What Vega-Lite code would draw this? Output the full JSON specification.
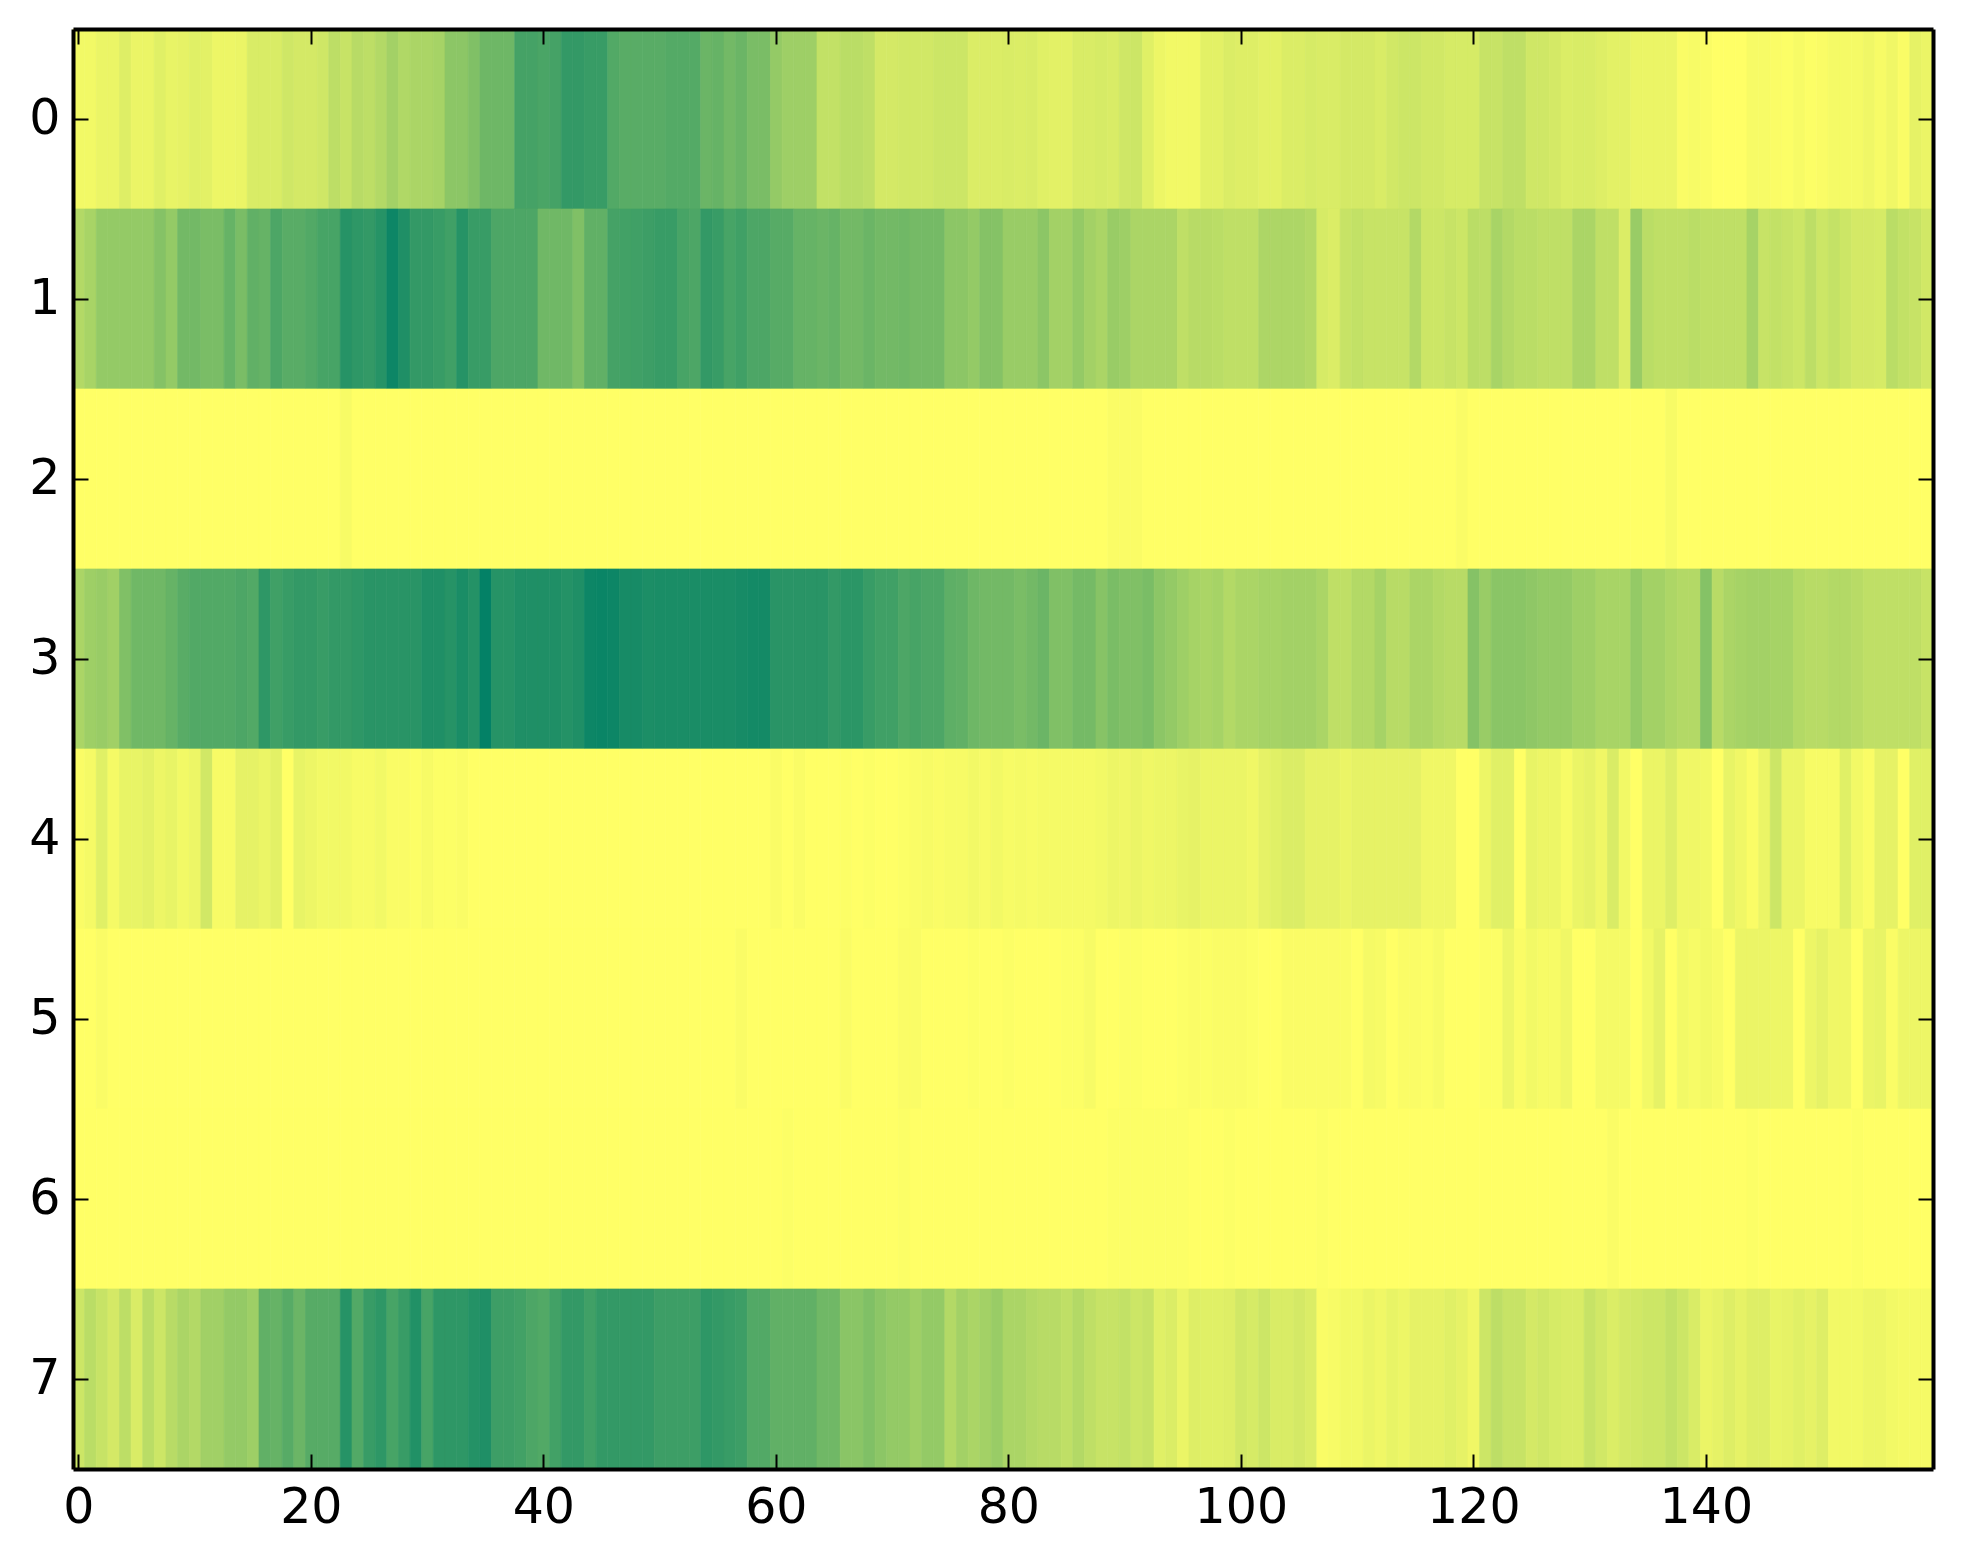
{
"$schema":"https://vega.github.io/schema/vega-lite/v6.json",
"description":"Heatmap of 8 rows by 160 columns in a yellow to green colormap.",
"autosize":{"type":"none"},
"padding":{"left":73,"top":29,"right":30,"bottom":95},
"width":1860,
"height":1440,
"background":"white",
"config":{"view":{"stroke":null},"axis":{"grid":false,"title":null,"labelFont":"DejaVu Sans","labelFontSize":49,"labelColor":"black","tickColor":"black","tickWidth":2,"domainColor":"black","domainWidth":4,"labelAngle":0}},
"data":{"values":[
{"r":0,"c":0,"v":0.05},{"r":0,"c":1,"v":0.05},{"r":0,"c":2,"v":0.08},{"r":0,"c":3,"v":0.08},{"r":0,"c":4,"v":0.13},{"r":0,"c":5,"v":0.08},{"r":0,"c":6,"v":0.08},{"r":0,"c":7,"v":0.12},{"r":0,"c":8,"v":0.09},{"r":0,"c":9,"v":0.1},
{"r":0,"c":10,"v":0.12},{"r":0,"c":11,"v":0.11},{"r":0,"c":12,"v":0.07},{"r":0,"c":13,"v":0.07},{"r":0,"c":14,"v":0.08},{"r":0,"c":15,"v":0.15},{"r":0,"c":16,"v":0.15},{"r":0,"c":17,"v":0.15},{"r":0,"c":18,"v":0.19},{"r":0,"c":19,"v":0.17},
{"r":0,"c":20,"v":0.17},{"r":0,"c":21,"v":0.19},{"r":0,"c":22,"v":0.26},{"r":0,"c":23,"v":0.22},{"r":0,"c":24,"v":0.28},{"r":0,"c":25,"v":0.26},{"r":0,"c":26,"v":0.3},{"r":0,"c":27,"v":0.36},{"r":0,"c":28,"v":0.31},{"r":0,"c":29,"v":0.33},
{"r":0,"c":30,"v":0.33},{"r":0,"c":31,"v":0.35},{"r":0,"c":32,"v":0.45},{"r":0,"c":33,"v":0.45},{"r":0,"c":34,"v":0.5},{"r":0,"c":35,"v":0.57},{"r":0,"c":36,"v":0.57},{"r":0,"c":37,"v":0.57},{"r":0,"c":38,"v":0.73},{"r":0,"c":39,"v":0.73},
{"r":0,"c":40,"v":0.71},{"r":0,"c":41,"v":0.73},{"r":0,"c":42,"v":0.8},{"r":0,"c":43,"v":0.8},{"r":0,"c":44,"v":0.78},{"r":0,"c":45,"v":0.78},{"r":0,"c":46,"v":0.68},{"r":0,"c":47,"v":0.65},{"r":0,"c":48,"v":0.65},{"r":0,"c":49,"v":0.65},
{"r":0,"c":50,"v":0.65},{"r":0,"c":51,"v":0.67},{"r":0,"c":52,"v":0.67},{"r":0,"c":53,"v":0.67},{"r":0,"c":54,"v":0.58},{"r":0,"c":55,"v":0.6},{"r":0,"c":56,"v":0.55},{"r":0,"c":57,"v":0.58},{"r":0,"c":58,"v":0.52},{"r":0,"c":59,"v":0.52},
{"r":0,"c":60,"v":0.42},{"r":0,"c":61,"v":0.38},{"r":0,"c":62,"v":0.38},{"r":0,"c":63,"v":0.38},{"r":0,"c":64,"v":0.24},{"r":0,"c":65,"v":0.24},{"r":0,"c":66,"v":0.27},{"r":0,"c":67,"v":0.27},{"r":0,"c":68,"v":0.25},{"r":0,"c":69,"v":0.17},
{"r":0,"c":70,"v":0.17},{"r":0,"c":71,"v":0.18},{"r":0,"c":72,"v":0.18},{"r":0,"c":73,"v":0.18},{"r":0,"c":74,"v":0.2},{"r":0,"c":75,"v":0.2},{"r":0,"c":76,"v":0.2},{"r":0,"c":77,"v":0.14},{"r":0,"c":78,"v":0.14},{"r":0,"c":79,"v":0.14},
{"r":0,"c":80,"v":0.15},{"r":0,"c":81,"v":0.14},{"r":0,"c":82,"v":0.15},{"r":0,"c":83,"v":0.12},{"r":0,"c":84,"v":0.11},{"r":0,"c":85,"v":0.11},{"r":0,"c":86,"v":0.15},{"r":0,"c":87,"v":0.15},{"r":0,"c":88,"v":0.16},{"r":0,"c":89,"v":0.15},
{"r":0,"c":90,"v":0.19},{"r":0,"c":91,"v":0.2},{"r":0,"c":92,"v":0.12},{"r":0,"c":93,"v":0.07},{"r":0,"c":94,"v":0.05},{"r":0,"c":95,"v":0.05},{"r":0,"c":96,"v":0.05},{"r":0,"c":97,"v":0.11},{"r":0,"c":98,"v":0.11},{"r":0,"c":99,"v":0.14},
{"r":0,"c":100,"v":0.13},{"r":0,"c":101,"v":0.13},{"r":0,"c":102,"v":0.11},{"r":0,"c":103,"v":0.11},{"r":0,"c":104,"v":0.14},{"r":0,"c":105,"v":0.14},{"r":0,"c":106,"v":0.16},{"r":0,"c":107,"v":0.15},{"r":0,"c":108,"v":0.15},{"r":0,"c":109,"v":0.17},
{"r":0,"c":110,"v":0.17},{"r":0,"c":111,"v":0.17},{"r":0,"c":112,"v":0.15},{"r":0,"c":113,"v":0.18},{"r":0,"c":114,"v":0.2},{"r":0,"c":115,"v":0.2},{"r":0,"c":116,"v":0.18},{"r":0,"c":117,"v":0.18},{"r":0,"c":118,"v":0.16},{"r":0,"c":119,"v":0.16},
{"r":0,"c":120,"v":0.16},{"r":0,"c":121,"v":0.22},{"r":0,"c":122,"v":0.22},{"r":0,"c":123,"v":0.25},{"r":0,"c":124,"v":0.25},{"r":0,"c":125,"v":0.19},{"r":0,"c":126,"v":0.19},{"r":0,"c":127,"v":0.17},{"r":0,"c":128,"v":0.14},{"r":0,"c":129,"v":0.15},
{"r":0,"c":130,"v":0.15},{"r":0,"c":131,"v":0.13},{"r":0,"c":132,"v":0.11},{"r":0,"c":133,"v":0.11},{"r":0,"c":134,"v":0.08},{"r":0,"c":135,"v":0.08},{"r":0,"c":136,"v":0.08},{"r":0,"c":137,"v":0.08},{"r":0,"c":138,"v":0.02},{"r":0,"c":139,"v":0.03},
{"r":0,"c":140,"v":0.02},{"r":0,"c":141,"v":0},{"r":0,"c":142,"v":0},{"r":0,"c":143,"v":0},{"r":0,"c":144,"v":0.03},{"r":0,"c":145,"v":0.03},{"r":0,"c":146,"v":0.02},{"r":0,"c":147,"v":0.01},{"r":0,"c":148,"v":0.03},{"r":0,"c":149,"v":0.01},
{"r":0,"c":150,"v":0.02},{"r":0,"c":151,"v":0.04},{"r":0,"c":152,"v":0.04},{"r":0,"c":153,"v":0.04},{"r":0,"c":154,"v":0.06},{"r":0,"c":155,"v":0.03},{"r":0,"c":156,"v":0.06},{"r":0,"c":157,"v":0.02},{"r":0,"c":158,"v":0.1},{"r":0,"c":159,"v":0.08},
{"r":1,"c":0,"v":0.3},{"r":1,"c":1,"v":0.34},{"r":1,"c":2,"v":0.42},{"r":1,"c":3,"v":0.42},{"r":1,"c":4,"v":0.42},{"r":1,"c":5,"v":0.42},{"r":1,"c":6,"v":0.42},{"r":1,"c":7,"v":0.48},{"r":1,"c":8,"v":0.42},{"r":1,"c":9,"v":0.55},
{"r":1,"c":10,"v":0.55},{"r":1,"c":11,"v":0.52},{"r":1,"c":12,"v":0.52},{"r":1,"c":13,"v":0.6},{"r":1,"c":14,"v":0.52},{"r":1,"c":15,"v":0.62},{"r":1,"c":16,"v":0.6},{"r":1,"c":17,"v":0.7},{"r":1,"c":18,"v":0.65},{"r":1,"c":19,"v":0.65},
{"r":1,"c":20,"v":0.68},{"r":1,"c":21,"v":0.72},{"r":1,"c":22,"v":0.72},{"r":1,"c":23,"v":0.85},{"r":1,"c":24,"v":0.82},{"r":1,"c":25,"v":0.8},{"r":1,"c":26,"v":0.85},{"r":1,"c":27,"v":0.95},{"r":1,"c":28,"v":0.88},{"r":1,"c":29,"v":0.8},
{"r":1,"c":30,"v":0.8},{"r":1,"c":31,"v":0.78},{"r":1,"c":32,"v":0.75},{"r":1,"c":33,"v":0.85},{"r":1,"c":34,"v":0.78},{"r":1,"c":35,"v":0.78},{"r":1,"c":36,"v":0.7},{"r":1,"c":37,"v":0.7},{"r":1,"c":38,"v":0.7},{"r":1,"c":39,"v":0.7},
{"r":1,"c":40,"v":0.56},{"r":1,"c":41,"v":0.56},{"r":1,"c":42,"v":0.56},{"r":1,"c":43,"v":0.5},{"r":1,"c":44,"v":0.62},{"r":1,"c":45,"v":0.62},{"r":1,"c":46,"v":0.73},{"r":1,"c":47,"v":0.74},{"r":1,"c":48,"v":0.75},{"r":1,"c":49,"v":0.76},
{"r":1,"c":50,"v":0.78},{"r":1,"c":51,"v":0.78},{"r":1,"c":52,"v":0.72},{"r":1,"c":53,"v":0.7},{"r":1,"c":54,"v":0.8},{"r":1,"c":55,"v":0.78},{"r":1,"c":56,"v":0.72},{"r":1,"c":57,"v":0.75},{"r":1,"c":58,"v":0.7},{"r":1,"c":59,"v":0.7},
{"r":1,"c":60,"v":0.66},{"r":1,"c":61,"v":0.66},{"r":1,"c":62,"v":0.6},{"r":1,"c":63,"v":0.6},{"r":1,"c":64,"v":0.58},{"r":1,"c":65,"v":0.6},{"r":1,"c":66,"v":0.55},{"r":1,"c":67,"v":0.55},{"r":1,"c":68,"v":0.58},{"r":1,"c":69,"v":0.55},
{"r":1,"c":70,"v":0.55},{"r":1,"c":71,"v":0.56},{"r":1,"c":72,"v":0.54},{"r":1,"c":73,"v":0.54},{"r":1,"c":74,"v":0.54},{"r":1,"c":75,"v":0.45},{"r":1,"c":76,"v":0.45},{"r":1,"c":77,"v":0.42},{"r":1,"c":78,"v":0.48},{"r":1,"c":79,"v":0.48},
{"r":1,"c":80,"v":0.4},{"r":1,"c":81,"v":0.4},{"r":1,"c":82,"v":0.4},{"r":1,"c":83,"v":0.45},{"r":1,"c":84,"v":0.36},{"r":1,"c":85,"v":0.36},{"r":1,"c":86,"v":0.42},{"r":1,"c":87,"v":0.36},{"r":1,"c":88,"v":0.33},{"r":1,"c":89,"v":0.4},
{"r":1,"c":90,"v":0.38},{"r":1,"c":91,"v":0.33},{"r":1,"c":92,"v":0.33},{"r":1,"c":93,"v":0.33},{"r":1,"c":94,"v":0.33},{"r":1,"c":95,"v":0.25},{"r":1,"c":96,"v":0.28},{"r":1,"c":97,"v":0.28},{"r":1,"c":98,"v":0.27},{"r":1,"c":99,"v":0.25},
{"r":1,"c":100,"v":0.25},{"r":1,"c":101,"v":0.25},{"r":1,"c":102,"v":0.32},{"r":1,"c":103,"v":0.32},{"r":1,"c":104,"v":0.32},{"r":1,"c":105,"v":0.32},{"r":1,"c":106,"v":0.3},{"r":1,"c":107,"v":0.16},{"r":1,"c":108,"v":0.14},{"r":1,"c":109,"v":0.22},
{"r":1,"c":110,"v":0.24},{"r":1,"c":111,"v":0.22},{"r":1,"c":112,"v":0.22},{"r":1,"c":113,"v":0.22},{"r":1,"c":114,"v":0.22},{"r":1,"c":115,"v":0.3},{"r":1,"c":116,"v":0.2},{"r":1,"c":117,"v":0.2},{"r":1,"c":118,"v":0.22},{"r":1,"c":119,"v":0.2},
{"r":1,"c":120,"v":0.27},{"r":1,"c":121,"v":0.26},{"r":1,"c":122,"v":0.34},{"r":1,"c":123,"v":0.3},{"r":1,"c":124,"v":0.27},{"r":1,"c":125,"v":0.27},{"r":1,"c":126,"v":0.25},{"r":1,"c":127,"v":0.25},{"r":1,"c":128,"v":0.25},{"r":1,"c":129,"v":0.33},
{"r":1,"c":130,"v":0.33},{"r":1,"c":131,"v":0.25},{"r":1,"c":132,"v":0.25},{"r":1,"c":133,"v":0.14},{"r":1,"c":134,"v":0.4},{"r":1,"c":135,"v":0.27},{"r":1,"c":136,"v":0.25},{"r":1,"c":137,"v":0.25},{"r":1,"c":138,"v":0.25},{"r":1,"c":139,"v":0.27},
{"r":1,"c":140,"v":0.25},{"r":1,"c":141,"v":0.25},{"r":1,"c":142,"v":0.25},{"r":1,"c":143,"v":0.25},{"r":1,"c":144,"v":0.35},{"r":1,"c":145,"v":0.22},{"r":1,"c":146,"v":0.24},{"r":1,"c":147,"v":0.22},{"r":1,"c":148,"v":0.2},{"r":1,"c":149,"v":0.26},
{"r":1,"c":150,"v":0.2},{"r":1,"c":151,"v":0.23},{"r":1,"c":152,"v":0.2},{"r":1,"c":153,"v":0.17},{"r":1,"c":154,"v":0.17},{"r":1,"c":155,"v":0.16},{"r":1,"c":156,"v":0.27},{"r":1,"c":157,"v":0.24},{"r":1,"c":158,"v":0.22},{"r":1,"c":159,"v":0.18},
{"r":2,"c":0,"v":0},{"r":2,"c":1,"v":0},{"r":2,"c":2,"v":0},{"r":2,"c":3,"v":0},{"r":2,"c":4,"v":0},{"r":2,"c":5,"v":0},{"r":2,"c":6,"v":0},{"r":2,"c":7,"v":0},{"r":2,"c":8,"v":0},{"r":2,"c":9,"v":0},
{"r":2,"c":10,"v":0},{"r":2,"c":11,"v":0},{"r":2,"c":12,"v":0},{"r":2,"c":13,"v":0},{"r":2,"c":14,"v":0},{"r":2,"c":15,"v":0},{"r":2,"c":16,"v":0},{"r":2,"c":17,"v":0},{"r":2,"c":18,"v":0},{"r":2,"c":19,"v":0},
{"r":2,"c":20,"v":0},{"r":2,"c":21,"v":0},{"r":2,"c":22,"v":0},{"r":2,"c":23,"v":0.03},{"r":2,"c":24,"v":0},{"r":2,"c":25,"v":0},{"r":2,"c":26,"v":0},{"r":2,"c":27,"v":0},{"r":2,"c":28,"v":0},{"r":2,"c":29,"v":0},
{"r":2,"c":30,"v":0},{"r":2,"c":31,"v":0},{"r":2,"c":32,"v":0},{"r":2,"c":33,"v":0},{"r":2,"c":34,"v":0},{"r":2,"c":35,"v":0},{"r":2,"c":36,"v":0},{"r":2,"c":37,"v":0},{"r":2,"c":38,"v":0},{"r":2,"c":39,"v":0},
{"r":2,"c":40,"v":0},{"r":2,"c":41,"v":0},{"r":2,"c":42,"v":0},{"r":2,"c":43,"v":0},{"r":2,"c":44,"v":0},{"r":2,"c":45,"v":0},{"r":2,"c":46,"v":0},{"r":2,"c":47,"v":0},{"r":2,"c":48,"v":0},{"r":2,"c":49,"v":0},
{"r":2,"c":50,"v":0},{"r":2,"c":51,"v":0},{"r":2,"c":52,"v":0},{"r":2,"c":53,"v":0},{"r":2,"c":54,"v":0},{"r":2,"c":55,"v":0},{"r":2,"c":56,"v":0},{"r":2,"c":57,"v":0},{"r":2,"c":58,"v":0},{"r":2,"c":59,"v":0},
{"r":2,"c":60,"v":0},{"r":2,"c":61,"v":0},{"r":2,"c":62,"v":0},{"r":2,"c":63,"v":0},{"r":2,"c":64,"v":0},{"r":2,"c":65,"v":0},{"r":2,"c":66,"v":0},{"r":2,"c":67,"v":0},{"r":2,"c":68,"v":0},{"r":2,"c":69,"v":0},
{"r":2,"c":70,"v":0},{"r":2,"c":71,"v":0},{"r":2,"c":72,"v":0},{"r":2,"c":73,"v":0},{"r":2,"c":74,"v":0},{"r":2,"c":75,"v":0},{"r":2,"c":76,"v":0},{"r":2,"c":77,"v":0},{"r":2,"c":78,"v":0},{"r":2,"c":79,"v":0},
{"r":2,"c":80,"v":0},{"r":2,"c":81,"v":0},{"r":2,"c":82,"v":0},{"r":2,"c":83,"v":0},{"r":2,"c":84,"v":0},{"r":2,"c":85,"v":0},{"r":2,"c":86,"v":0},{"r":2,"c":87,"v":0},{"r":2,"c":88,"v":0},{"r":2,"c":89,"v":0.02},
{"r":2,"c":90,"v":0.02},{"r":2,"c":91,"v":0.02},{"r":2,"c":92,"v":0},{"r":2,"c":93,"v":0},{"r":2,"c":94,"v":0},{"r":2,"c":95,"v":0},{"r":2,"c":96,"v":0},{"r":2,"c":97,"v":0},{"r":2,"c":98,"v":0},{"r":2,"c":99,"v":0},
{"r":2,"c":100,"v":0},{"r":2,"c":101,"v":0},{"r":2,"c":102,"v":0},{"r":2,"c":103,"v":0},{"r":2,"c":104,"v":0},{"r":2,"c":105,"v":0},{"r":2,"c":106,"v":0},{"r":2,"c":107,"v":0},{"r":2,"c":108,"v":0},{"r":2,"c":109,"v":0},
{"r":2,"c":110,"v":0},{"r":2,"c":111,"v":0},{"r":2,"c":112,"v":0},{"r":2,"c":113,"v":0},{"r":2,"c":114,"v":0},{"r":2,"c":115,"v":0},{"r":2,"c":116,"v":0},{"r":2,"c":117,"v":0},{"r":2,"c":118,"v":0},{"r":2,"c":119,"v":0.02},
{"r":2,"c":120,"v":0},{"r":2,"c":121,"v":0},{"r":2,"c":122,"v":0},{"r":2,"c":123,"v":0},{"r":2,"c":124,"v":0},{"r":2,"c":125,"v":0},{"r":2,"c":126,"v":0},{"r":2,"c":127,"v":0},{"r":2,"c":128,"v":0},{"r":2,"c":129,"v":0},
{"r":2,"c":130,"v":0},{"r":2,"c":131,"v":0},{"r":2,"c":132,"v":0},{"r":2,"c":133,"v":0},{"r":2,"c":134,"v":0},{"r":2,"c":135,"v":0},{"r":2,"c":136,"v":0},{"r":2,"c":137,"v":0.03},{"r":2,"c":138,"v":0},{"r":2,"c":139,"v":0},
{"r":2,"c":140,"v":0},{"r":2,"c":141,"v":0},{"r":2,"c":142,"v":0},{"r":2,"c":143,"v":0},{"r":2,"c":144,"v":0},{"r":2,"c":145,"v":0},{"r":2,"c":146,"v":0},{"r":2,"c":147,"v":0},{"r":2,"c":148,"v":0},{"r":2,"c":149,"v":0},
{"r":2,"c":150,"v":0},{"r":2,"c":151,"v":0},{"r":2,"c":152,"v":0},{"r":2,"c":153,"v":0},{"r":2,"c":154,"v":0},{"r":2,"c":155,"v":0},{"r":2,"c":156,"v":0},{"r":2,"c":157,"v":0},{"r":2,"c":158,"v":0},{"r":2,"c":159,"v":0},
{"r":3,"c":0,"v":0.33},{"r":3,"c":1,"v":0.38},{"r":3,"c":2,"v":0.4},{"r":3,"c":3,"v":0.37},{"r":3,"c":4,"v":0.5},{"r":3,"c":5,"v":0.56},{"r":3,"c":6,"v":0.56},{"r":3,"c":7,"v":0.56},{"r":3,"c":8,"v":0.6},{"r":3,"c":9,"v":0.65},
{"r":3,"c":10,"v":0.68},{"r":3,"c":11,"v":0.68},{"r":3,"c":12,"v":0.68},{"r":3,"c":13,"v":0.68},{"r":3,"c":14,"v":0.7},{"r":3,"c":15,"v":0.68},{"r":3,"c":16,"v":0.82},{"r":3,"c":17,"v":0.75},{"r":3,"c":18,"v":0.78},{"r":3,"c":19,"v":0.8},
{"r":3,"c":20,"v":0.8},{"r":3,"c":21,"v":0.78},{"r":3,"c":22,"v":0.8},{"r":3,"c":23,"v":0.8},{"r":3,"c":24,"v":0.82},{"r":3,"c":25,"v":0.84},{"r":3,"c":26,"v":0.84},{"r":3,"c":27,"v":0.84},{"r":3,"c":28,"v":0.84},{"r":3,"c":29,"v":0.84},
{"r":3,"c":30,"v":0.88},{"r":3,"c":31,"v":0.88},{"r":3,"c":32,"v":0.85},{"r":3,"c":33,"v":0.9},{"r":3,"c":34,"v":0.86},{"r":3,"c":35,"v":0.99},{"r":3,"c":36,"v":0.85},{"r":3,"c":37,"v":0.85},{"r":3,"c":38,"v":0.88},{"r":3,"c":39,"v":0.88},
{"r":3,"c":40,"v":0.88},{"r":3,"c":41,"v":0.88},{"r":3,"c":42,"v":0.86},{"r":3,"c":43,"v":0.88},{"r":3,"c":44,"v":0.95},{"r":3,"c":45,"v":0.96},{"r":3,"c":46,"v":0.95},{"r":3,"c":47,"v":0.91},{"r":3,"c":48,"v":0.91},{"r":3,"c":49,"v":0.89},
{"r":3,"c":50,"v":0.9},{"r":3,"c":51,"v":0.9},{"r":3,"c":52,"v":0.9},{"r":3,"c":53,"v":0.9},{"r":3,"c":54,"v":0.9},{"r":3,"c":55,"v":0.9},{"r":3,"c":56,"v":0.9},{"r":3,"c":57,"v":0.91},{"r":3,"c":58,"v":0.92},{"r":3,"c":59,"v":0.92},
{"r":3,"c":60,"v":0.84},{"r":3,"c":61,"v":0.84},{"r":3,"c":62,"v":0.84},{"r":3,"c":63,"v":0.84},{"r":3,"c":64,"v":0.84},{"r":3,"c":65,"v":0.8},{"r":3,"c":66,"v":0.83},{"r":3,"c":67,"v":0.83},{"r":3,"c":68,"v":0.78},{"r":3,"c":69,"v":0.75},
{"r":3,"c":70,"v":0.75},{"r":3,"c":71,"v":0.7},{"r":3,"c":72,"v":0.72},{"r":3,"c":73,"v":0.7},{"r":3,"c":74,"v":0.7},{"r":3,"c":75,"v":0.63},{"r":3,"c":76,"v":0.62},{"r":3,"c":77,"v":0.57},{"r":3,"c":78,"v":0.55},{"r":3,"c":79,"v":0.55},
{"r":3,"c":80,"v":0.55},{"r":3,"c":81,"v":0.52},{"r":3,"c":82,"v":0.55},{"r":3,"c":83,"v":0.58},{"r":3,"c":84,"v":0.5},{"r":3,"c":85,"v":0.5},{"r":3,"c":86,"v":0.54},{"r":3,"c":87,"v":0.54},{"r":3,"c":88,"v":0.47},{"r":3,"c":89,"v":0.52},
{"r":3,"c":90,"v":0.5},{"r":3,"c":91,"v":0.5},{"r":3,"c":92,"v":0.52},{"r":3,"c":93,"v":0.45},{"r":3,"c":94,"v":0.42},{"r":3,"c":95,"v":0.38},{"r":3,"c":96,"v":0.35},{"r":3,"c":97,"v":0.33},{"r":3,"c":98,"v":0.35},{"r":3,"c":99,"v":0.3},
{"r":3,"c":100,"v":0.33},{"r":3,"c":101,"v":0.33},{"r":3,"c":102,"v":0.35},{"r":3,"c":103,"v":0.35},{"r":3,"c":104,"v":0.36},{"r":3,"c":105,"v":0.36},{"r":3,"c":106,"v":0.36},{"r":3,"c":107,"v":0.33},{"r":3,"c":108,"v":0.25},{"r":3,"c":109,"v":0.25},
{"r":3,"c":110,"v":0.3},{"r":3,"c":111,"v":0.3},{"r":3,"c":112,"v":0.35},{"r":3,"c":113,"v":0.28},{"r":3,"c":114,"v":0.28},{"r":3,"c":115,"v":0.33},{"r":3,"c":116,"v":0.33},{"r":3,"c":117,"v":0.3},{"r":3,"c":118,"v":0.28},{"r":3,"c":119,"v":0.28},
{"r":3,"c":120,"v":0.48},{"r":3,"c":121,"v":0.4},{"r":3,"c":122,"v":0.46},{"r":3,"c":123,"v":0.46},{"r":3,"c":124,"v":0.46},{"r":3,"c":125,"v":0.44},{"r":3,"c":126,"v":0.42},{"r":3,"c":127,"v":0.42},{"r":3,"c":128,"v":0.42},{"r":3,"c":129,"v":0.38},
{"r":3,"c":130,"v":0.38},{"r":3,"c":131,"v":0.34},{"r":3,"c":132,"v":0.34},{"r":3,"c":133,"v":0.34},{"r":3,"c":134,"v":0.42},{"r":3,"c":135,"v":0.36},{"r":3,"c":136,"v":0.36},{"r":3,"c":137,"v":0.32},{"r":3,"c":138,"v":0.3},{"r":3,"c":139,"v":0.3},
{"r":3,"c":140,"v":0.48},{"r":3,"c":141,"v":0.28},{"r":3,"c":142,"v":0.33},{"r":3,"c":143,"v":0.35},{"r":3,"c":144,"v":0.36},{"r":3,"c":145,"v":0.36},{"r":3,"c":146,"v":0.35},{"r":3,"c":147,"v":0.35},{"r":3,"c":148,"v":0.3},{"r":3,"c":149,"v":0.28},
{"r":3,"c":150,"v":0.28},{"r":3,"c":151,"v":0.3},{"r":3,"c":152,"v":0.3},{"r":3,"c":153,"v":0.28},{"r":3,"c":154,"v":0.25},{"r":3,"c":155,"v":0.25},{"r":3,"c":156,"v":0.25},{"r":3,"c":157,"v":0.25},{"r":3,"c":158,"v":0.25},{"r":3,"c":159,"v":0.22},
{"r":4,"c":0,"v":0.02},{"r":4,"c":1,"v":0.04},{"r":4,"c":2,"v":0.12},{"r":4,"c":3,"v":0.04},{"r":4,"c":4,"v":0.09},{"r":4,"c":5,"v":0.09},{"r":4,"c":6,"v":0.11},{"r":4,"c":7,"v":0.07},{"r":4,"c":8,"v":0.09},{"r":4,"c":9,"v":0.05},
{"r":4,"c":10,"v":0.07},{"r":4,"c":11,"v":0.18},{"r":4,"c":12,"v":0.03},{"r":4,"c":13,"v":0.03},{"r":4,"c":14,"v":0.1},{"r":4,"c":15,"v":0.1},{"r":4,"c":16,"v":0.08},{"r":4,"c":17,"v":0.11},{"r":4,"c":18,"v":0},{"r":4,"c":19,"v":0.09},
{"r":4,"c":20,"v":0.07},{"r":4,"c":21,"v":0.05},{"r":4,"c":22,"v":0.05},{"r":4,"c":23,"v":0.05},{"r":4,"c":24,"v":0.03},{"r":4,"c":25,"v":0.03},{"r":4,"c":26,"v":0.05},{"r":4,"c":27,"v":0.02},{"r":4,"c":28,"v":0.02},{"r":4,"c":29,"v":0.01},
{"r":4,"c":30,"v":0.03},{"r":4,"c":31,"v":0.01},{"r":4,"c":32,"v":0.01},{"r":4,"c":33,"v":0.02},{"r":4,"c":34,"v":0},{"r":4,"c":35,"v":0},{"r":4,"c":36,"v":0},{"r":4,"c":37,"v":0},{"r":4,"c":38,"v":0},{"r":4,"c":39,"v":0},
{"r":4,"c":40,"v":0},{"r":4,"c":41,"v":0},{"r":4,"c":42,"v":0},{"r":4,"c":43,"v":0},{"r":4,"c":44,"v":0},{"r":4,"c":45,"v":0},{"r":4,"c":46,"v":0},{"r":4,"c":47,"v":0},{"r":4,"c":48,"v":0},{"r":4,"c":49,"v":0},
{"r":4,"c":50,"v":0},{"r":4,"c":51,"v":0},{"r":4,"c":52,"v":0},{"r":4,"c":53,"v":0},{"r":4,"c":54,"v":0},{"r":4,"c":55,"v":0},{"r":4,"c":56,"v":0},{"r":4,"c":57,"v":0},{"r":4,"c":58,"v":0},{"r":4,"c":59,"v":0},
{"r":4,"c":60,"v":0.02},{"r":4,"c":61,"v":0},{"r":4,"c":62,"v":0.02},{"r":4,"c":63,"v":0},{"r":4,"c":64,"v":0},{"r":4,"c":65,"v":0},{"r":4,"c":66,"v":0.01},{"r":4,"c":67,"v":0},{"r":4,"c":68,"v":0.01},{"r":4,"c":69,"v":0},
{"r":4,"c":70,"v":0},{"r":4,"c":71,"v":0.01},{"r":4,"c":72,"v":0.02},{"r":4,"c":73,"v":0.03},{"r":4,"c":74,"v":0.02},{"r":4,"c":75,"v":0.03},{"r":4,"c":76,"v":0.03},{"r":4,"c":77,"v":0.05},{"r":4,"c":78,"v":0.03},{"r":4,"c":79,"v":0.05},
{"r":4,"c":80,"v":0.03},{"r":4,"c":81,"v":0.04},{"r":4,"c":82,"v":0.03},{"r":4,"c":83,"v":0.04},{"r":4,"c":84,"v":0.04},{"r":4,"c":85,"v":0.04},{"r":4,"c":86,"v":0.04},{"r":4,"c":87,"v":0.04},{"r":4,"c":88,"v":0.05},{"r":4,"c":89,"v":0.07},
{"r":4,"c":90,"v":0.06},{"r":4,"c":91,"v":0.08},{"r":4,"c":92,"v":0.06},{"r":4,"c":93,"v":0.07},{"r":4,"c":94,"v":0.07},{"r":4,"c":95,"v":0.09},{"r":4,"c":96,"v":0.1},{"r":4,"c":97,"v":0.08},{"r":4,"c":98,"v":0.08},{"r":4,"c":99,"v":0.08},
{"r":4,"c":100,"v":0.08},{"r":4,"c":101,"v":0.06},{"r":4,"c":102,"v":0.1},{"r":4,"c":103,"v":0.12},{"r":4,"c":104,"v":0.14},{"r":4,"c":105,"v":0.14},{"r":4,"c":106,"v":0.1},{"r":4,"c":107,"v":0.1},{"r":4,"c":108,"v":0.1},{"r":4,"c":109,"v":0.08},
{"r":4,"c":110,"v":0.1},{"r":4,"c":111,"v":0.1},{"r":4,"c":112,"v":0.1},{"r":4,"c":113,"v":0.1},{"r":4,"c":114,"v":0.1},{"r":4,"c":115,"v":0.1},{"r":4,"c":116,"v":0.06},{"r":4,"c":117,"v":0.06},{"r":4,"c":118,"v":0.06},{"r":4,"c":119,"v":0},
{"r":4,"c":120,"v":0},{"r":4,"c":121,"v":0.07},{"r":4,"c":122,"v":0.12},{"r":4,"c":123,"v":0.12},{"r":4,"c":124,"v":0},{"r":4,"c":125,"v":0.09},{"r":4,"c":126,"v":0.07},{"r":4,"c":127,"v":0.07},{"r":4,"c":128,"v":0.03},{"r":4,"c":129,"v":0.08},
{"r":4,"c":130,"v":0.1},{"r":4,"c":131,"v":0.06},{"r":4,"c":132,"v":0.15},{"r":4,"c":133,"v":0.05},{"r":4,"c":134,"v":0},{"r":4,"c":135,"v":0.08},{"r":4,"c":136,"v":0.08},{"r":4,"c":137,"v":0.13},{"r":4,"c":138,"v":0.06},{"r":4,"c":139,"v":0.06},
{"r":4,"c":140,"v":0.05},{"r":4,"c":141,"v":0},{"r":4,"c":142,"v":0.09},{"r":4,"c":143,"v":0.06},{"r":4,"c":144,"v":0.02},{"r":4,"c":145,"v":0.08},{"r":4,"c":146,"v":0.2},{"r":4,"c":147,"v":0.08},{"r":4,"c":148,"v":0.08},{"r":4,"c":149,"v":0.03},
{"r":4,"c":150,"v":0.03},{"r":4,"c":151,"v":0.03},{"r":4,"c":152,"v":0.12},{"r":4,"c":153,"v":0.05},{"r":4,"c":154,"v":0.02},{"r":4,"c":155,"v":0.1},{"r":4,"c":156,"v":0.1},{"r":4,"c":157,"v":0},{"r":4,"c":158,"v":0.12},{"r":4,"c":159,"v":0.12},
{"r":5,"c":0,"v":0},{"r":5,"c":1,"v":0},{"r":5,"c":2,"v":0.02},{"r":5,"c":3,"v":0},{"r":5,"c":4,"v":0},{"r":5,"c":5,"v":0},{"r":5,"c":6,"v":0},{"r":5,"c":7,"v":0},{"r":5,"c":8,"v":0},{"r":5,"c":9,"v":0},
{"r":5,"c":10,"v":0},{"r":5,"c":11,"v":0},{"r":5,"c":12,"v":0},{"r":5,"c":13,"v":0},{"r":5,"c":14,"v":0},{"r":5,"c":15,"v":0},{"r":5,"c":16,"v":0},{"r":5,"c":17,"v":0},{"r":5,"c":18,"v":0},{"r":5,"c":19,"v":0},
{"r":5,"c":20,"v":0},{"r":5,"c":21,"v":0},{"r":5,"c":22,"v":0},{"r":5,"c":23,"v":0},{"r":5,"c":24,"v":0},{"r":5,"c":25,"v":0},{"r":5,"c":26,"v":0},{"r":5,"c":27,"v":0},{"r":5,"c":28,"v":0},{"r":5,"c":29,"v":0},
{"r":5,"c":30,"v":0},{"r":5,"c":31,"v":0},{"r":5,"c":32,"v":0},{"r":5,"c":33,"v":0},{"r":5,"c":34,"v":0},{"r":5,"c":35,"v":0},{"r":5,"c":36,"v":0},{"r":5,"c":37,"v":0},{"r":5,"c":38,"v":0},{"r":5,"c":39,"v":0},
{"r":5,"c":40,"v":0},{"r":5,"c":41,"v":0},{"r":5,"c":42,"v":0},{"r":5,"c":43,"v":0},{"r":5,"c":44,"v":0},{"r":5,"c":45,"v":0},{"r":5,"c":46,"v":0},{"r":5,"c":47,"v":0},{"r":5,"c":48,"v":0},{"r":5,"c":49,"v":0},
{"r":5,"c":50,"v":0},{"r":5,"c":51,"v":0},{"r":5,"c":52,"v":0},{"r":5,"c":53,"v":0},{"r":5,"c":54,"v":0},{"r":5,"c":55,"v":0},{"r":5,"c":56,"v":0},{"r":5,"c":57,"v":0.02},{"r":5,"c":58,"v":0},{"r":5,"c":59,"v":0},
{"r":5,"c":60,"v":0},{"r":5,"c":61,"v":0},{"r":5,"c":62,"v":0},{"r":5,"c":63,"v":0},{"r":5,"c":64,"v":0},{"r":5,"c":65,"v":0},{"r":5,"c":66,"v":0.02},{"r":5,"c":67,"v":0},{"r":5,"c":68,"v":0},{"r":5,"c":69,"v":0},
{"r":5,"c":70,"v":0},{"r":5,"c":71,"v":0.02},{"r":5,"c":72,"v":0.02},{"r":5,"c":73,"v":0},{"r":5,"c":74,"v":0},{"r":5,"c":75,"v":0},{"r":5,"c":76,"v":0},{"r":5,"c":77,"v":0.01},{"r":5,"c":78,"v":0},{"r":5,"c":79,"v":0},
{"r":5,"c":80,"v":0.01},{"r":5,"c":81,"v":0},{"r":5,"c":82,"v":0},{"r":5,"c":83,"v":0},{"r":5,"c":84,"v":0},{"r":5,"c":85,"v":0.01},{"r":5,"c":86,"v":0.01},{"r":5,"c":87,"v":0.03},{"r":5,"c":88,"v":0},{"r":5,"c":89,"v":0},
{"r":5,"c":90,"v":0.01},{"r":5,"c":91,"v":0.01},{"r":5,"c":92,"v":0},{"r":5,"c":93,"v":0},{"r":5,"c":94,"v":0},{"r":5,"c":95,"v":0.01},{"r":5,"c":96,"v":0.02},{"r":5,"c":97,"v":0.01},{"r":5,"c":98,"v":0.02},{"r":5,"c":99,"v":0.02},
{"r":5,"c":100,"v":0.02},{"r":5,"c":101,"v":0.01},{"r":5,"c":102,"v":0},{"r":5,"c":103,"v":0},{"r":5,"c":104,"v":0.02},{"r":5,"c":105,"v":0.02},{"r":5,"c":106,"v":0.02},{"r":5,"c":107,"v":0.02},{"r":5,"c":108,"v":0.02},{"r":5,"c":109,"v":0.02},
{"r":5,"c":110,"v":0},{"r":5,"c":111,"v":0.04},{"r":5,"c":112,"v":0.03},{"r":5,"c":113,"v":0},{"r":5,"c":114,"v":0.02},{"r":5,"c":115,"v":0.02},{"r":5,"c":116,"v":0.01},{"r":5,"c":117,"v":0.03},{"r":5,"c":118,"v":0},{"r":5,"c":119,"v":0},
{"r":5,"c":120,"v":0},{"r":5,"c":121,"v":0.01},{"r":5,"c":122,"v":0.01},{"r":5,"c":123,"v":0.07},{"r":5,"c":124,"v":0.02},{"r":5,"c":125,"v":0.05},{"r":5,"c":126,"v":0.03},{"r":5,"c":127,"v":0.03},{"r":5,"c":128,"v":0.06},{"r":5,"c":129,"v":0},
{"r":5,"c":130,"v":0},{"r":5,"c":131,"v":0.04},{"r":5,"c":132,"v":0.04},{"r":5,"c":133,"v":0.04},{"r":5,"c":134,"v":0},{"r":5,"c":135,"v":0.05},{"r":5,"c":136,"v":0.1},{"r":5,"c":137,"v":0},{"r":5,"c":138,"v":0.05},{"r":5,"c":139,"v":0.03},
{"r":5,"c":140,"v":0.05},{"r":5,"c":141,"v":0.03},{"r":5,"c":142,"v":0},{"r":5,"c":143,"v":0.08},{"r":5,"c":144,"v":0.08},{"r":5,"c":145,"v":0.08},{"r":5,"c":146,"v":0.07},{"r":5,"c":147,"v":0.07},{"r":5,"c":148,"v":0},{"r":5,"c":149,"v":0.07},
{"r":5,"c":150,"v":0.1},{"r":5,"c":151,"v":0.06},{"r":5,"c":152,"v":0.06},{"r":5,"c":153,"v":0},{"r":5,"c":154,"v":0.08},{"r":5,"c":155,"v":0.09},{"r":5,"c":156,"v":0.02},{"r":5,"c":157,"v":0.07},{"r":5,"c":158,"v":0.07},{"r":5,"c":159,"v":0.07},
{"r":6,"c":0,"v":0},{"r":6,"c":1,"v":0},{"r":6,"c":2,"v":0},{"r":6,"c":3,"v":0},{"r":6,"c":4,"v":0},{"r":6,"c":5,"v":0},{"r":6,"c":6,"v":0},{"r":6,"c":7,"v":0},{"r":6,"c":8,"v":0},{"r":6,"c":9,"v":0},
{"r":6,"c":10,"v":0},{"r":6,"c":11,"v":0},{"r":6,"c":12,"v":0},{"r":6,"c":13,"v":0},{"r":6,"c":14,"v":0},{"r":6,"c":15,"v":0},{"r":6,"c":16,"v":0},{"r":6,"c":17,"v":0},{"r":6,"c":18,"v":0},{"r":6,"c":19,"v":0},
{"r":6,"c":20,"v":0},{"r":6,"c":21,"v":0},{"r":6,"c":22,"v":0},{"r":6,"c":23,"v":0},{"r":6,"c":24,"v":0},{"r":6,"c":25,"v":0},{"r":6,"c":26,"v":0},{"r":6,"c":27,"v":0},{"r":6,"c":28,"v":0},{"r":6,"c":29,"v":0},
{"r":6,"c":30,"v":0},{"r":6,"c":31,"v":0},{"r":6,"c":32,"v":0},{"r":6,"c":33,"v":0},{"r":6,"c":34,"v":0},{"r":6,"c":35,"v":0},{"r":6,"c":36,"v":0},{"r":6,"c":37,"v":0},{"r":6,"c":38,"v":0},{"r":6,"c":39,"v":0},
{"r":6,"c":40,"v":0},{"r":6,"c":41,"v":0},{"r":6,"c":42,"v":0},{"r":6,"c":43,"v":0},{"r":6,"c":44,"v":0},{"r":6,"c":45,"v":0},{"r":6,"c":46,"v":0},{"r":6,"c":47,"v":0},{"r":6,"c":48,"v":0},{"r":6,"c":49,"v":0},
{"r":6,"c":50,"v":0},{"r":6,"c":51,"v":0},{"r":6,"c":52,"v":0},{"r":6,"c":53,"v":0},{"r":6,"c":54,"v":0},{"r":6,"c":55,"v":0},{"r":6,"c":56,"v":0},{"r":6,"c":57,"v":0},{"r":6,"c":58,"v":0},{"r":6,"c":59,"v":0},
{"r":6,"c":60,"v":0},{"r":6,"c":61,"v":0.01},{"r":6,"c":62,"v":0},{"r":6,"c":63,"v":0},{"r":6,"c":64,"v":0},{"r":6,"c":65,"v":0},{"r":6,"c":66,"v":0},{"r":6,"c":67,"v":0},{"r":6,"c":68,"v":0},{"r":6,"c":69,"v":0},
{"r":6,"c":70,"v":0},{"r":6,"c":71,"v":0.01},{"r":6,"c":72,"v":0},{"r":6,"c":73,"v":0},{"r":6,"c":74,"v":0},{"r":6,"c":75,"v":0},{"r":6,"c":76,"v":0},{"r":6,"c":77,"v":0},{"r":6,"c":78,"v":0},{"r":6,"c":79,"v":0},
{"r":6,"c":80,"v":0},{"r":6,"c":81,"v":0},{"r":6,"c":82,"v":0},{"r":6,"c":83,"v":0},{"r":6,"c":84,"v":0},{"r":6,"c":85,"v":0},{"r":6,"c":86,"v":0},{"r":6,"c":87,"v":0},{"r":6,"c":88,"v":0},{"r":6,"c":89,"v":0.01},
{"r":6,"c":90,"v":0.01},{"r":6,"c":91,"v":0.01},{"r":6,"c":92,"v":0.01},{"r":6,"c":93,"v":0.01},{"r":6,"c":94,"v":0.01},{"r":6,"c":95,"v":0.01},{"r":6,"c":96,"v":0},{"r":6,"c":97,"v":0},{"r":6,"c":98,"v":0},{"r":6,"c":99,"v":0.01},
{"r":6,"c":100,"v":0},{"r":6,"c":101,"v":0},{"r":6,"c":102,"v":0},{"r":6,"c":103,"v":0},{"r":6,"c":104,"v":0},{"r":6,"c":105,"v":0},{"r":6,"c":106,"v":0},{"r":6,"c":107,"v":0.01},{"r":6,"c":108,"v":0},{"r":6,"c":109,"v":0},
{"r":6,"c":110,"v":0},{"r":6,"c":111,"v":0},{"r":6,"c":112,"v":0},{"r":6,"c":113,"v":0},{"r":6,"c":114,"v":0},{"r":6,"c":115,"v":0},{"r":6,"c":116,"v":0},{"r":6,"c":117,"v":0},{"r":6,"c":118,"v":0},{"r":6,"c":119,"v":0},
{"r":6,"c":120,"v":0},{"r":6,"c":121,"v":0},{"r":6,"c":122,"v":0},{"r":6,"c":123,"v":0},{"r":6,"c":124,"v":0},{"r":6,"c":125,"v":0},{"r":6,"c":126,"v":0},{"r":6,"c":127,"v":0},{"r":6,"c":128,"v":0},{"r":6,"c":129,"v":0},
{"r":6,"c":130,"v":0},{"r":6,"c":131,"v":0},{"r":6,"c":132,"v":0.02},{"r":6,"c":133,"v":0},{"r":6,"c":134,"v":0},{"r":6,"c":135,"v":0},{"r":6,"c":136,"v":0},{"r":6,"c":137,"v":0},{"r":6,"c":138,"v":0},{"r":6,"c":139,"v":0},
{"r":6,"c":140,"v":0},{"r":6,"c":141,"v":0},{"r":6,"c":142,"v":0},{"r":6,"c":143,"v":0},{"r":6,"c":144,"v":0.01},{"r":6,"c":145,"v":0},{"r":6,"c":146,"v":0},{"r":6,"c":147,"v":0},{"r":6,"c":148,"v":0},{"r":6,"c":149,"v":0},
{"r":6,"c":150,"v":0},{"r":6,"c":151,"v":0},{"r":6,"c":152,"v":0},{"r":6,"c":153,"v":0.01},{"r":6,"c":154,"v":0},{"r":6,"c":155,"v":0},{"r":6,"c":156,"v":0},{"r":6,"c":157,"v":0},{"r":6,"c":158,"v":0},{"r":6,"c":159,"v":0},
{"r":7,"c":0,"v":0.2},{"r":7,"c":1,"v":0.27},{"r":7,"c":2,"v":0.22},{"r":7,"c":3,"v":0.17},{"r":7,"c":4,"v":0.26},{"r":7,"c":5,"v":0.15},{"r":7,"c":6,"v":0.27},{"r":7,"c":7,"v":0.2},{"r":7,"c":8,"v":0.28},{"r":7,"c":9,"v":0.33},
{"r":7,"c":10,"v":0.3},{"r":7,"c":11,"v":0.37},{"r":7,"c":12,"v":0.37},{"r":7,"c":13,"v":0.42},{"r":7,"c":14,"v":0.42},{"r":7,"c":15,"v":0.38},{"r":7,"c":16,"v":0.62},{"r":7,"c":17,"v":0.6},{"r":7,"c":18,"v":0.66},{"r":7,"c":19,"v":0.58},
{"r":7,"c":20,"v":0.66},{"r":7,"c":21,"v":0.66},{"r":7,"c":22,"v":0.66},{"r":7,"c":23,"v":0.85},{"r":7,"c":24,"v":0.68},{"r":7,"c":25,"v":0.78},{"r":7,"c":26,"v":0.82},{"r":7,"c":27,"v":0.72},{"r":7,"c":28,"v":0.78},{"r":7,"c":29,"v":0.87},
{"r":7,"c":30,"v":0.72},{"r":7,"c":31,"v":0.82},{"r":7,"c":32,"v":0.82},{"r":7,"c":33,"v":0.82},{"r":7,"c":34,"v":0.86},{"r":7,"c":35,"v":0.88},{"r":7,"c":36,"v":0.76},{"r":7,"c":37,"v":0.76},{"r":7,"c":38,"v":0.74},{"r":7,"c":39,"v":0.7},
{"r":7,"c":40,"v":0.68},{"r":7,"c":41,"v":0.74},{"r":7,"c":42,"v":0.8},{"r":7,"c":43,"v":0.8},{"r":7,"c":44,"v":0.75},{"r":7,"c":45,"v":0.8},{"r":7,"c":46,"v":0.8},{"r":7,"c":47,"v":0.8},{"r":7,"c":48,"v":0.8},{"r":7,"c":49,"v":0.8},
{"r":7,"c":50,"v":0.76},{"r":7,"c":51,"v":0.76},{"r":7,"c":52,"v":0.76},{"r":7,"c":53,"v":0.76},{"r":7,"c":54,"v":0.82},{"r":7,"c":55,"v":0.8},{"r":7,"c":56,"v":0.78},{"r":7,"c":57,"v":0.76},{"r":7,"c":58,"v":0.68},{"r":7,"c":59,"v":0.68},
{"r":7,"c":60,"v":0.62},{"r":7,"c":61,"v":0.62},{"r":7,"c":62,"v":0.62},{"r":7,"c":63,"v":0.62},{"r":7,"c":64,"v":0.56},{"r":7,"c":65,"v":0.56},{"r":7,"c":66,"v":0.46},{"r":7,"c":67,"v":0.46},{"r":7,"c":68,"v":0.5},{"r":7,"c":69,"v":0.45},
{"r":7,"c":70,"v":0.42},{"r":7,"c":71,"v":0.42},{"r":7,"c":72,"v":0.38},{"r":7,"c":73,"v":0.42},{"r":7,"c":74,"v":0.42},{"r":7,"c":75,"v":0.3},{"r":7,"c":76,"v":0.36},{"r":7,"c":77,"v":0.33},{"r":7,"c":78,"v":0.36},{"r":7,"c":79,"v":0.4},
{"r":7,"c":80,"v":0.33},{"r":7,"c":81,"v":0.33},{"r":7,"c":82,"v":0.3},{"r":7,"c":83,"v":0.28},{"r":7,"c":84,"v":0.28},{"r":7,"c":85,"v":0.25},{"r":7,"c":86,"v":0.3},{"r":7,"c":87,"v":0.25},{"r":7,"c":88,"v":0.22},{"r":7,"c":89,"v":0.22},
{"r":7,"c":90,"v":0.24},{"r":7,"c":91,"v":0.2},{"r":7,"c":92,"v":0.22},{"r":7,"c":93,"v":0.12},{"r":7,"c":94,"v":0.14},{"r":7,"c":95,"v":0.08},{"r":7,"c":96,"v":0.13},{"r":7,"c":97,"v":0.12},{"r":7,"c":98,"v":0.12},{"r":7,"c":99,"v":0.13},
{"r":7,"c":100,"v":0.18},{"r":7,"c":101,"v":0.16},{"r":7,"c":102,"v":0.2},{"r":7,"c":103,"v":0.15},{"r":7,"c":104,"v":0.15},{"r":7,"c":105,"v":0.17},{"r":7,"c":106,"v":0.14},{"r":7,"c":107,"v":0.02},{"r":7,"c":108,"v":0.03},{"r":7,"c":109,"v":0.05},
{"r":7,"c":110,"v":0.05},{"r":7,"c":111,"v":0.08},{"r":7,"c":112,"v":0.06},{"r":7,"c":113,"v":0.09},{"r":7,"c":114,"v":0.07},{"r":7,"c":115,"v":0.1},{"r":7,"c":116,"v":0.1},{"r":7,"c":117,"v":0.1},{"r":7,"c":118,"v":0.12},{"r":7,"c":119,"v":0.1},
{"r":7,"c":120,"v":0.06},{"r":7,"c":121,"v":0.2},{"r":7,"c":122,"v":0.26},{"r":7,"c":123,"v":0.22},{"r":7,"c":124,"v":0.22},{"r":7,"c":125,"v":0.17},{"r":7,"c":126,"v":0.19},{"r":7,"c":127,"v":0.16},{"r":7,"c":128,"v":0.15},{"r":7,"c":129,"v":0.15},
{"r":7,"c":130,"v":0.22},{"r":7,"c":131,"v":0.18},{"r":7,"c":132,"v":0.14},{"r":7,"c":133,"v":0.17},{"r":7,"c":134,"v":0.18},{"r":7,"c":135,"v":0.2},{"r":7,"c":136,"v":0.2},{"r":7,"c":137,"v":0.24},{"r":7,"c":138,"v":0.2},{"r":7,"c":139,"v":0.15},
{"r":7,"c":140,"v":0.08},{"r":7,"c":141,"v":0.1},{"r":7,"c":142,"v":0.13},{"r":7,"c":143,"v":0.1},{"r":7,"c":144,"v":0.13},{"r":7,"c":145,"v":0.13},{"r":7,"c":146,"v":0.09},{"r":7,"c":147,"v":0.1},{"r":7,"c":148,"v":0.12},{"r":7,"c":149,"v":0.1},
{"r":7,"c":150,"v":0.13},{"r":7,"c":151,"v":0.05},{"r":7,"c":152,"v":0.05},{"r":7,"c":153,"v":0.05},{"r":7,"c":154,"v":0.07},{"r":7,"c":155,"v":0.07},{"r":7,"c":156,"v":0.05},{"r":7,"c":157,"v":0.04},{"r":7,"c":158,"v":0.04},{"r":7,"c":159,"v":0.04}
]},
"layer":[
{"mark":{"type":"rect","strokeWidth":0.7},
"encoding":{
"x":{"field":"c","type":"ordinal","sort":"ascending","scale":{"paddingInner":0,"paddingOuter":0},"axis":{"orient":"bottom","values":[0,20,40,60,80,100,120,140],"labelPadding":29,"tickSize":-15,"zindex":1}},
"y":{"field":"r","type":"ordinal","sort":"ascending","scale":{"paddingInner":0,"paddingOuter":0},"axis":{"orient":"left","labelPadding":28,"tickSize":-15,"zindex":1}},
"color":{"field":"v","type":"quantitative","legend":null,"scale":{"domain":[0,1],"range":["#ffff66","#008066"],"interpolate":"rgb"}},
"stroke":{"field":"v","type":"quantitative","legend":null,"scale":{"domain":[0,1],"range":["#ffff66","#008066"],"interpolate":"rgb"}}}},
{"mark":{"type":"rect","opacity":0},
"encoding":{
"x":{"field":"c","type":"ordinal","sort":"ascending","scale":{"paddingInner":0,"paddingOuter":0},"axis":{"orient":"top","values":[0,20,40,60,80,100,120,140],"labels":false,"tickSize":-15,"zindex":1}},
"y":{"field":"r","type":"ordinal","sort":"ascending","scale":{"paddingInner":0,"paddingOuter":0},"axis":{"orient":"right","labels":false,"tickSize":-15,"zindex":1}}}}
],
"resolve":{"axis":{"x":"independent","y":"independent"}}
}
